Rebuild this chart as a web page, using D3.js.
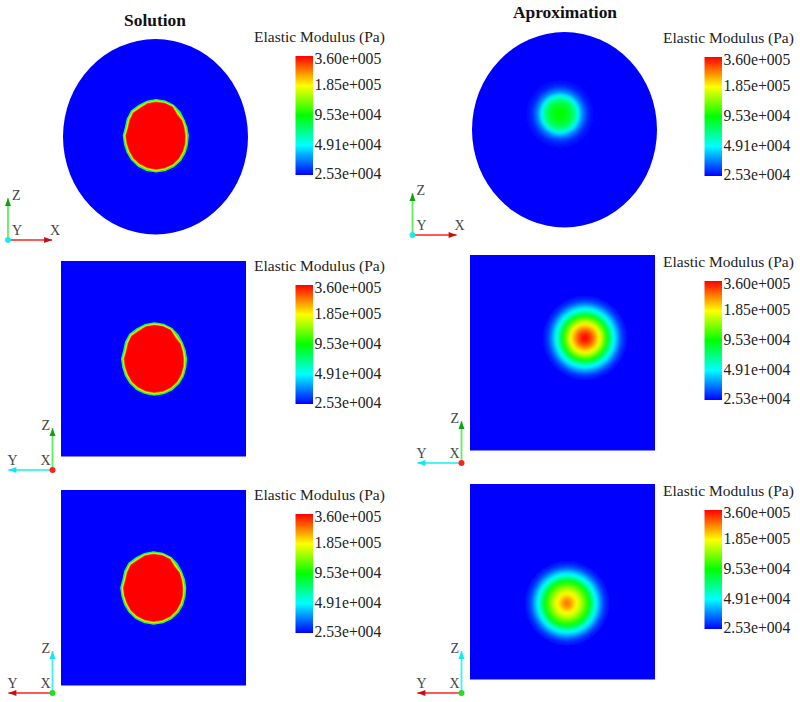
<!DOCTYPE html>
<html><head><meta charset="utf-8">
<script src="https://cdn.jsdelivr.net/npm/d3@7"></script>
<style>html,body{margin:0;padding:0;background:#fff}svg{display:block}
text{font-family:"Liberation Serif",serif;fill:#222}</style></head>
<body><svg id="c" width="800" height="702"></svg>
<script>
// ---- data ----
const tickValues = [360000, 185000, 95300, 49100, 25300];
const tickLabels = ["3.60e+005","1.85e+005","9.53e+004","4.91e+004","2.53e+004"];
const legendTitle = "Elastic Modulus (Pa)";
const columnTitles = ["Solution","Aproximation"];
const rainbow = ["#ff0000","#ffff00","#00ff00","#00ffff","#0000ff"];
const background = 25300;
// solution inclusion outline: radius at every 15 degrees (clockwise from +x)
const outlineAngles = [0,15,30,45,60,75,90,105,120,135,150,165,180,195,210,225,240,255,270,285,300,315,330,345];
const outlineRadii = [32.8,33.2,34.3,35.5,36.3,36.8,37,36.6,36,35,34,33.2,33.3,32.2,33.8,35.3,35.2,36,36.5,36.2,35.6,34.2,32.8,32.5];
const coreRadii = [29,29.8,30.8,32,33,33.4,33.6,33.2,32.5,31.7,30.5,30,30,28.8,30.2,32,31.5,33,33.4,33.4,33,29.5,29.8,29];
// modulus of the bands between outline (first) and core (last)
const edgeValues = [62000,100000,150000,200000,280000,360000];
// approximation radial profiles
const profileRadii = [46,44,42,40,38,36,34,32,30,28,26,24,22,20,18,16,14,12,10,8,6,4,2,0];
const profileTop = [25300,25300,25300,25300,25400,25500,25800,26500,27500,29000,32000,35000,39500,47000,56000,66000,74000,80000,85000,89000,92000,94000,95000,96000];
const profileMiddle = [25300,25500,26500,28000,30000,33000,38000,43000,49000,59000,73000,88000,105000,125000,150000,175000,200000,230000,260000,290000,315000,340000,352000,360000];
const profileBottom = [25300,25500,26500,28000,30000,33000,38000,43000,49000,59000,72000,86000,100000,112000,126000,142000,160000,175000,190000,210000,230000,250000,262000,270000];
// panels
const panelShapes = ["disc","square","square","disc","square","square"];
const panelX = [63,61,61,472,470,470];
const panelY = [39,261,490,32,255,484];
const centreX = [0.5,0.8,0,-4.5,22.5,4.5];
const centreY = [-1.2,0,0,-15.75,-14.75,21.5];
const legendX = [254,254,254,663,663,663];
const legendY = [37,266,495,38,262,491];
const triadX = [8,52.5,52.5,412.5,461.5,461.5];
const triadY = [240,470,693,235,463,693];
const triadDirs = [1,-1,-1,1,-1,-1];
const triadColors = [["#ff2020","#60ee60","#20e8e8"],["#10f0f0","#60ee60","#ff2020"],["#ff2020","#40f0f0","#20e020"],
                     ["#ff2020","#60ee60","#20e8e8"],["#10f0f0","#60ee60","#ff2020"],["#ff2020","#40f0f0","#20e020"]];

// ---- scales ----
const svg = d3.select("#c");
const color = d3.scaleLog().domain(tickValues).range(rainbow);
const defs = svg.append("defs");
defs.append("filter").attr("id","soft").attr("x","-10%").attr("y","-10%").attr("width","120%").attr("height","120%")
  .append("feGaussianBlur").attr("stdDeviation",0.9);
defs.append("filter").attr("id","edge").append("feGaussianBlur").attr("stdDeviation",0.45);
const grad = defs.append("linearGradient").attr("id","bar").attr("x1",0).attr("x2",0).attr("y1",0).attr("y2",1);
tickValues.forEach((v,i)=>grad.append("stop").attr("offset",i/(tickValues.length-1)).attr("stop-color",rainbow[i]));

const W = 185, H = 195.5;
const labelNudge = [2.5,-1,-0.5,0,-1.5];
panelShapes.forEach((shape,i)=>{
  const x = d3.scaleLinear().domain([-W/2,W/2]).range([panelX[i],panelX[i]+W]);
  const y = d3.scaleLinear().domain([-H/2,H/2]).range([panelY[i],panelY[i]+H]);
  const g = svg.append("g");
  const base = color(background);
  if(shape==="disc"){
    g.append("ellipse").attr("cx",x(0)).attr("cy",y(0)).attr("rx",W/2).attr("ry",H/2).attr("fill",base);
  } else {
    g.append("rect").attr("x",x(-W/2)).attr("y",y(-H/2)).attr("width",W).attr("height",H).attr("fill",base);
  }
  const cx = x(centreX[i]), cy = y(centreY[i]);
  if(i<3){
    const blob = g.append("g").attr("filter","url(#edge)");
    const n = edgeValues.length-1;
    edgeValues.forEach((val,k)=>{
      const line = d3.lineRadial().curve(d3.curveLinearClosed)
        .angle((d,j)=>(outlineAngles[j]+90)*Math.PI/180)
        .radius((d,j)=>d+(coreRadii[j]-d)*k/n);
      blob.append("path").attr("d",line(outlineRadii)).attr("transform",`translate(${cx},${cy})`)
        .attr("fill",color(val));
    });
  } else {
    const prof = [profileTop,profileMiddle,profileBottom][i-3];
    g.append("g").attr("filter","url(#soft)").selectAll("circle").data(profileRadii).join("circle")
      .attr("cx",cx).attr("cy",cy).attr("r",d=>d).attr("fill",(d,j)=>color(prof[j]));
  }
  // legend
  const lx = legendX[i], ly = legendY[i];
  g.append("text").attr("x",lx).attr("y",ly+5).attr("font-size",15.5).text(legendTitle);
  const bx = lx+41.5, bw = 17.5, top = ly+19, bh = 119;
  const barY = d3.scaleLog().domain([tickValues[4],tickValues[0]]).range([top+bh,top]);
  g.append("rect").attr("x",bx).attr("y",top).attr("width",bw).attr("height",bh).attr("fill","url(#bar)");
  tickLabels.forEach((t,j)=>g.append("text").attr("x",bx+bw+1.5)
    .attr("y",barY(tickValues[j])+5+labelNudge[j])
    .attr("font-size",15.7).text(t));
  // triad
  const tx = triadX[i], ty = triadY[i], dir = triadDirs[i];
  const [hc,vc,dc] = triadColors[i];
  const len = d3.scaleLinear().domain([0,1]).range([0,42]);
  const arrow = (x1,y1,x2,y2,c,w)=>{
    g.append("line").attr("x1",x1).attr("y1",y1).attr("x2",x2).attr("y2",y2).attr("stroke",c).attr("stroke-width",w);
    const dx=Math.sign(x2-x1), dy=Math.sign(y2-y1);
    const head = c.includes("ff2020") ? "#c01010" : (c.includes("ee60") ? "#10a010" : "#10e8f0");
    g.append("path").attr("fill",head)
      .attr("d",`M${x2},${y2}L${x2-dx*8+dy*3},${y2-dy*8+dx*3}L${x2-dx*8-dy*3},${y2-dy*8-dx*3}Z`);
  };
  arrow(tx,ty,tx+dir*len(1.05),ty,hc,1.3);
  arrow(tx,ty,tx,ty-len(1),vc,1.8);
  g.append("circle").attr("cx",tx).attr("cy",ty).attr("r",3).attr("fill",dc);
  const fs = 14;
  const lab = (s,a,b)=>g.append("text").attr("x",a).attr("y",b).attr("font-size",fs).style("fill","#444").text(s);
  if(dir>0){
    lab("X",tx+42,ty-5); lab("Y",tx+4,ty-5); lab("Z",tx+4,ty-40);
  } else {
    lab("Y",tx-45,ty-5); lab("X",tx-12,ty-5); lab("Z",tx-11,ty-40);
  }
});
// column titles
svg.append("text").attr("x",155).attr("y",26).attr("text-anchor","middle").attr("font-weight","bold").attr("font-size",17.4).style("fill","#111").text(columnTitles[0]);
svg.append("text").attr("x",565).attr("y",18).attr("text-anchor","middle").attr("font-weight","bold").attr("font-size",17.4).style("fill","#111").text(columnTitles[1]);
</script></body></html>
